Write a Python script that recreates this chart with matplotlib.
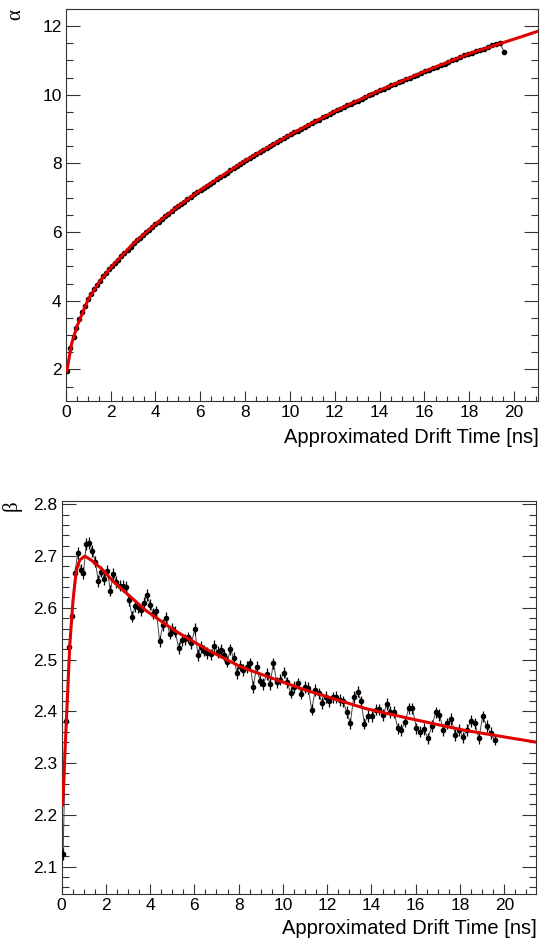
import numpy as np
import matplotlib.pyplot as plt
from matplotlib.ticker import MultipleLocator

plt.rcParams['font.family'] = ['Liberation Sans', 'DejaVu Sans']

# approximated drift time of each point [ns]
t = [0.07, 0.21, 0.35, 0.48, 0.61, 0.73, 0.86, 0.99, 1.12, 1.26, 1.40, 1.53, 1.66, 1.80, 1.94,
     2.07, 2.21, 2.34, 2.48, 2.62, 2.77, 2.91, 3.05, 3.19, 3.33, 3.46, 3.59, 3.73, 3.86,
     4.00, 4.14, 4.29, 4.43, 4.58, 4.73, 4.88, 5.01, 5.14, 5.29, 5.43, 5.58, 5.73, 5.87, 6.02,
     6.16, 6.31, 6.45, 6.59, 6.74, 6.90, 7.05, 7.19, 7.34, 7.49, 7.63, 7.78, 7.92, 8.06,
     8.21, 8.36, 8.51, 8.66, 8.81, 8.96, 9.12, 9.27, 9.42, 9.57, 9.73, 9.89, 10.05, 10.20,
     10.35, 10.51, 10.67, 10.83, 10.99, 11.14, 11.30, 11.46, 11.61, 11.77, 11.93, 12.09, 12.25,
     12.40, 12.56, 12.72, 12.88, 13.04, 13.20, 13.37, 13.53, 13.68, 13.84, 14.01, 14.19, 14.36,
     14.53, 14.69, 14.85, 15.02, 15.19, 15.35, 15.52, 15.68, 15.85, 16.03, 16.20, 16.37, 16.55,
     16.73, 16.90, 17.07, 17.25, 17.43, 17.61, 17.79, 17.96, 18.13, 18.31, 18.48, 18.66, 18.85,
     19.02, 19.20, 19.38, 19.56]

alpha = [1.95, 2.62, 2.95, 3.22, 3.47, 3.66, 3.86, 4.04, 4.19, 4.34, 4.47, 4.59, 4.71, 4.82, 4.93,
         5.00, 5.10, 5.19, 5.29, 5.39, 5.49, 5.58, 5.67, 5.76, 5.84, 5.92, 5.99, 6.07, 6.15,
         6.23, 6.30, 6.38, 6.46, 6.54, 6.61, 6.69, 6.75, 6.82, 6.89, 6.96, 7.03, 7.10, 7.16, 7.23,
         7.29, 7.35, 7.41, 7.47, 7.54, 7.61, 7.67, 7.73, 7.80, 7.86, 7.92, 7.99, 8.05, 8.10,
         8.16, 8.22, 8.27, 8.33, 8.39, 8.44, 8.51, 8.56, 8.62, 8.68, 8.74, 8.80, 8.86, 8.91,
         8.96, 9.01, 9.07, 9.12, 9.18, 9.23, 9.28, 9.34, 9.39, 9.44, 9.50, 9.55, 9.60,
         9.64, 9.69, 9.74, 9.79, 9.81, 9.89, 9.94, 9.99, 10.03, 10.08, 10.13, 10.18, 10.23,
         10.28, 10.32, 10.36, 10.41, 10.46, 10.50, 10.55, 10.59, 10.64, 10.69, 10.73, 10.78, 10.82,
         10.87, 10.91, 10.96, 11.00, 11.05, 11.10, 11.15, 11.19, 11.23, 11.27, 11.30, 11.34, 11.38,
         11.44, 11.48, 11.50, 11.25]

beta = [2.124, 2.382, 2.525, 2.585, 2.668, 2.706, 2.674, 2.667, 2.723, 2.725, 2.710, 2.689, 2.652,
        2.670, 2.656, 2.672, 2.633, 2.665, 2.650, 2.643, 2.642, 2.640, 2.615, 2.583, 2.603, 2.601,
        2.596, 2.609, 2.625,
        2.606, 2.589, 2.593, 2.535, 2.567, 2.580, 2.550, 2.559, 2.554, 2.522, 2.538, 2.539, 2.543,
        2.532, 2.559, 2.509, 2.524, 2.517, 2.513, 2.510, 2.526, 2.515, 2.519, 2.509, 2.496, 2.520,
        2.503, 2.474, 2.488,
        2.480, 2.486, 2.493, 2.447, 2.486, 2.459, 2.453, 2.472, 2.453, 2.493, 2.456, 2.461, 2.475,
        2.456, 2.436, 2.447, 2.454, 2.434, 2.447, 2.445, 2.403, 2.441, 2.435, 2.416, 2.428, 2.419,
        2.427,
        2.428, 2.422, 2.419, 2.399, 2.377, 2.428, 2.438, 2.419, 2.376, 2.391, 2.390, 2.403, 2.404,
        2.393, 2.414, 2.399, 2.399, 2.367, 2.364, 2.380, 2.406, 2.406, 2.367, 2.361, 2.366, 2.348,
        2.372, 2.398, 2.393, 2.364, 2.377, 2.385, 2.354, 2.364, 2.350, 2.364, 2.381, 2.377, 2.348,
        2.390, 2.372, 2.358, 2.345]

alpha_err = 0.03
beta_err = 0.011

# fitted curves
alpha_fit_t = [0.05, 0.25, 0.5, 1, 1.5, 2, 3, 4, 5, 6, 8, 10, 12, 14, 16, 18, 20, 21.1]
alpha_fit = [1.95, 2.72, 3.25, 4.04, 4.55, 4.96, 5.66, 6.23, 6.75, 7.22, 8.08, 8.84, 9.52,
             10.13, 10.68, 11.2, 11.62, 11.86]
beta_fit_t = [0.05, 0.22, 0.37, 0.52, 0.67, 0.82, 1.05, 1.35, 1.8, 2.26, 2.86, 3.77, 5.07,
              6.58, 8.09, 9.37, 10.88, 12.39, 13.67, 15.19, 16.7, 17.98, 19.49, 21.5]
beta_fit = [2.219, 2.383, 2.525, 2.615, 2.673, 2.692, 2.700, 2.692, 2.676, 2.654, 2.631, 2.596,
            2.557, 2.519, 2.486, 2.466, 2.443, 2.423, 2.406, 2.391, 2.377, 2.365, 2.354, 2.340]

W, H = 541, 941
fig = plt.figure(figsize=(W / 100, H / 100), dpi=100)


def px_axes(l, r, top, bot):
    return fig.add_axes([l / W, 1 - bot / H, (r - l) / W, (bot - top) / H])


def style(ax, xmaj, xmin, ymaj, ymin):
    ax.xaxis.set_major_locator(MultipleLocator(xmaj))
    ax.xaxis.set_minor_locator(MultipleLocator(xmin))
    ax.yaxis.set_major_locator(MultipleLocator(ymaj))
    ax.yaxis.set_minor_locator(MultipleLocator(ymin))
    ax.tick_params(axis='both', which='both', direction='in', top=False, right=True,
                   labelsize=12.5, width=0.8, color='#333333')
    ax.tick_params(axis='x', which='major', length=7.5, pad=3)
    ax.tick_params(axis='x', which='minor', length=3.7)
    ax.tick_params(axis='y', which='major', length=10, pad=3)
    ax.tick_params(axis='y', which='minor', length=5)
    for s in ax.spines.values():
        s.set_linewidth(0.8)
        s.set_color('#333333')


def draw(ax, y, yerr, ft, fy, xmax):
    ax.plot(t, y, color='#444444', lw=0.7, zorder=2)
    ax.errorbar(t, y, yerr=yerr, fmt='o', color='black', ms=3, elinewidth=0.9,
                capsize=0, zorder=3)
    tf = np.linspace(ft[0], xmax, 600)
    ax.plot(tf, np.interp(tf, ft, fy), color='#e00000', lw=2.2, zorder=4)


ax1 = px_axes(65.7, 538, 9, 401)
draw(ax1, alpha, alpha_err, alpha_fit_t, alpha_fit, 21.07)
ax1.set_xlim(0, 21.07)
ax1.set_ylim(1.08, 12.5)
style(ax1, 2, 0.5, 2, 0.5)

ax2 = px_axes(61.5, 536, 500.7, 894)
draw(ax2, beta, beta_err, beta_fit_t, beta_fit, 21.43)
ax2.set_xlim(0, 21.43)
ax2.set_ylim(2.047, 2.807)
style(ax2, 2, 0.5, 0.1, 0.02)

fig.text(539 / W, 1 - 437 / H, 'Approximated Drift Time [ns]', ha='right', va='center',
         fontsize=14.5)
fig.text(537 / W, 1 - 928 / H, 'Approximated Drift Time [ns]', ha='right', va='center',
         fontsize=14.5)
fig.text(16 / W, 1 - 15 / H, 'α', rotation=90, ha='center', va='center', fontsize=15,
         family=['Liberation Serif', 'DejaVu Serif'])
fig.text(12 / W, 1 - 506 / H, 'β', rotation=90, ha='center', va='center', fontsize=15,
         family=['Liberation Serif', 'DejaVu Serif'])

fig.savefig('out.png', dpi=100)
